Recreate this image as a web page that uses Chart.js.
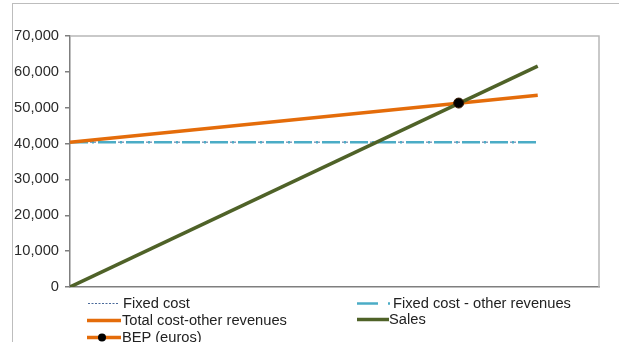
<!DOCTYPE html>
<html>
<head>
<meta charset="utf-8">
<script src="https://cdn.jsdelivr.net/npm/chart.js@4.4.1/dist/chart.umd.min.js"></script>
<style>
html,body{margin:0;padding:0;background:#fff;}
#wrap{position:relative;width:619px;height:342px;overflow:hidden;font-family:"Liberation Sans",Arial,sans-serif;}
#frame{position:absolute;left:12px;top:3px;width:640px;height:400px;border-left:1.5px solid #bdbdbd;border-top:1.5px solid #bdbdbd;}
#cv{position:absolute;left:0;top:0;}
.lg{position:absolute;font-size:14.7px;color:#222;white-space:nowrap;line-height:16px;height:16px;}
.lg svg{position:absolute;left:0;top:0;}
.lg span{position:absolute;top:0;}
</style>
</head>
<body>
<div id="wrap">
<div id="frame"></div>
<canvas id="cv" width="619" height="342"></canvas>
<div class="lg" style="left:86px;top:295px;"><svg width="36" height="16"><line x1="2" y1="8.5" x2="33" y2="8.5" stroke="#4a6a9a" stroke-width="1" stroke-dasharray="2,1.5"/></svg><span style="left:37px">Fixed cost</span></div>
<div class="lg" style="left:356px;top:295px;"><svg width="38" height="16"><line x1="1" y1="8.5" x2="22" y2="8.5" stroke="#4bacc6" stroke-width="2.5"/><line x1="32" y1="8.5" x2="34" y2="8.5" stroke="#4bacc6" stroke-width="2.5"/></svg><span style="left:37px">Fixed cost - other revenues</span></div>
<div class="lg" style="left:86px;top:312px;"><svg width="36" height="16"><line x1="1" y1="8.5" x2="35" y2="8.5" stroke="#e46c0a" stroke-width="3.5"/></svg><span style="left:36px">Total cost-other revenues</span></div>
<div class="lg" style="left:356px;top:311px;"><svg width="36" height="16"><line x1="1" y1="8.5" x2="33" y2="8.5" stroke="#4f6228" stroke-width="3.5"/></svg><span style="left:33px">Sales</span></div>
<div class="lg" style="left:86px;top:329px;"><svg width="36" height="16"><line x1="1" y1="8.5" x2="35" y2="8.5" stroke="#e46c0a" stroke-width="3.5"/><circle cx="16" cy="8.5" r="4" fill="#000"/></svg><span style="left:36px">BEP (euros)</span></div>
</div>
<script>
// Quantity axis (hidden) and values
const quantity = [0, 10000];
const fixedCost = [40400, 40400];
const fixedCostOtherRevenues = [40400, 40400];
const totalCostOtherRevenues = [40400, 53500];
const sales = [0, 61600];
const bepQuantity = [8310];
const bepValue = [51300];
const xMax = 11310;
const yTicks = [0, 10000, 20000, 30000, 40000, 50000, 60000, 70000];

const toPts = (xs, ys) => xs.map((x, i) => ({x: x, y: ys[i]}));

const frameBox = {
  id: 'frameBox',
  beforeDatasetsDraw(chart) {
    const {ctx, chartArea: a} = chart;
    ctx.save();
    ctx.strokeStyle = '#b8b8b8';
    ctx.lineWidth = 1.5;
    ctx.beginPath();
    ctx.moveTo(a.left, a.top);
    ctx.lineTo(a.right, a.top);
    ctx.lineTo(a.right, a.bottom);
    ctx.stroke();
    ctx.restore();
  }
};

new Chart(document.getElementById('cv'), {
  type: 'line',
  data: {
    datasets: [
      {label: 'Fixed cost', data: toPts(quantity, fixedCost), borderColor: '#4a6a9a', borderWidth: 1, borderDash: [2, 2], pointRadius: 0, order: 5},
      {label: 'Fixed cost - other revenues', data: toPts(quantity, fixedCostOtherRevenues), borderColor: '#4bacc6', borderWidth: 2.5, borderDash: [18, 4, 2, 4], pointRadius: 0, order: 4},
      {label: 'Total cost-other revenues', data: toPts(quantity, totalCostOtherRevenues), borderColor: '#e46c0a', borderWidth: 3.5, pointRadius: 0, order: 3},
      {label: 'Sales', data: toPts(quantity, sales), borderColor: '#4f6228', borderWidth: 3.5, pointRadius: 0, order: 2},
      {label: 'BEP (euros)', data: toPts(bepQuantity, bepValue), borderColor: '#e46c0a', showLine: false, pointRadius: 5, pointBackgroundColor: '#000', pointBorderColor: '#3a1a00', pointBorderWidth: 1, order: 1}
    ]
  },
  plugins: [frameBox],
  options: {
    responsive: false,
    animation: false,
    devicePixelRatio: 1,
    layout: {padding: {left: 0, top: 36, right: 20, bottom: 55}},
    plugins: {legend: {display: false}, tooltip: {enabled: false}},
    elements: {line: {tension: 0, borderCapStyle: 'butt'}},
    scales: {
      x: {
        type: 'linear', min: 0, max: xMax,
        ticks: {display: false},
        grid: {display: false, drawTicks: false},
        border: {display: true, color: '#7f7f7f', width: 1.5}
      },
      y: {
        min: 0, max: 70000,
        afterBuildTicks(s) { s.ticks = yTicks.map(v => ({value: v})); },
        afterFit(s) { s.width = 70; },
        ticks: {
          color: '#2a2a2a',
          font: {family: '"Liberation Sans", Arial, sans-serif', size: 14.7},
          padding: 6,
          callback: v => v.toLocaleString('en-US')
        },
        grid: {drawOnChartArea: false, tickLength: 5, color: '#7f7f7f', lineWidth: 1.5},
        border: {display: true, color: '#7f7f7f', width: 1.5}
      }
    }
  }
});
</script>
</body>
</html>
